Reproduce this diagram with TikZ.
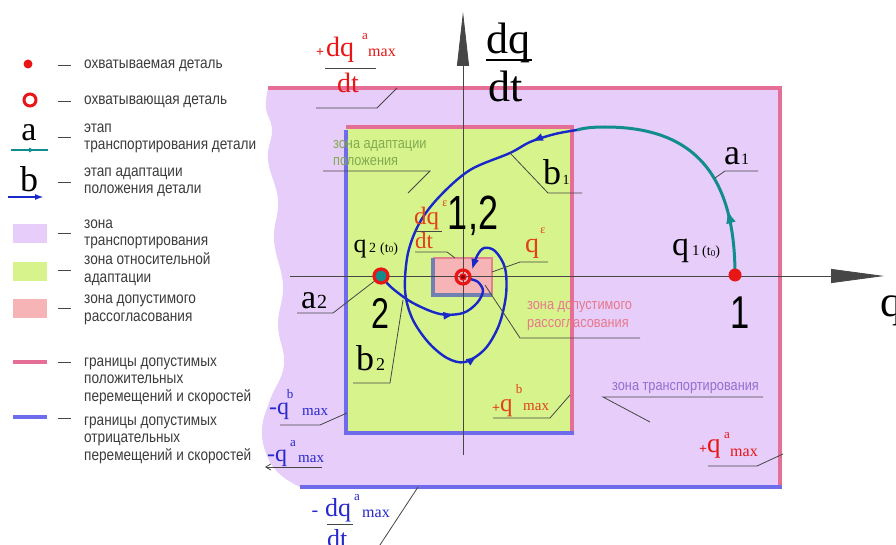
\documentclass[tikz,border=0pt]{standalone}
\usepackage{fontspec}
\setmainfont{Liberation Serif}
\newfontfamily\gost[FakeStretch=0.75]{Liberation Sans}
\newfontfamily\gostt[FakeStretch=0.85]{Liberation Sans}
\usetikzlibrary{arrows.meta,decorations.markings}
\definecolor{zpurple}{RGB}{230,205,250}
\definecolor{zgreen}{RGB}{215,244,140}
\definecolor{zpink}{RGB}{246,180,182}
\definecolor{bpink}{RGB}{228,110,150}
\definecolor{bblue}{RGB}{110,108,236}
\definecolor{tealc}{RGB}{18,140,140}
\definecolor{cblue}{RGB}{25,40,200}
\definecolor{cred}{RGB}{232,22,22}
\definecolor{corange}{RGB}{226,64,24}
\definecolor{lblue}{RGB}{40,40,205}
\definecolor{lgray}{RGB}{70,70,70}
\definecolor{tgreen}{RGB}{130,170,80}
\definecolor{tpink}{RGB}{232,120,140}
\definecolor{tpurple}{RGB}{150,110,205}
\definecolor{legc}{RGB}{60,60,60}
\definecolor{rectb}{RGB}{112,128,176}
\definecolor{rectp}{RGB}{224,130,140}
\tikzset{
  fs/.style={font=\fontsize{#1}{#1}\selectfont, inner sep=0},
  gs/.style={font=\gost\fontsize{#1}{#1}\selectfont, inner sep=0},
  gt/.style={font=\gostt\fontsize{#1}{#1}\selectfont, inner sep=0},
  gl/.style={font=\gostt\fontsize{#1}{17.5}\selectfont, inner sep=0, align=left, anchor=base west},
  leg/.style={gl=16, text=legc},
  lead/.style={draw=lgray, line width=0.8},
  dashl/.style={draw=lgray, line width=0.9},
  swatch/.style={minimum width=34, minimum height=19, inner sep=0},
  reddot/.style={circle, fill=cred, inner sep=0, minimum size=#1},
  ringn/.style={circle, draw=cred, line width=3.2, inner sep=0, minimum size=14},
  bcurve/.style={draw=cblue, line width=2.4},
  tipA/.style={postaction={decorate, decoration={markings, mark=at position #1 with {\arrow{Latex[length=12,width=8]}}}}},
  tipT/.style={postaction={decorate, decoration={markings, mark=at position #1 with {\arrow{Latex[length=14,width=10]}}}}},
  tipS/.style={postaction={decorate, decoration={markings, mark=at position #1 with {\arrow{Latex[length=6,width=5]}}}}}
}
\begin{document}
\begin{tikzpicture}[x=1pt,y=-1pt]
\useasboundingbox (0,0) rectangle (896,545);
\fill[white] (0,0) rectangle (896,545);

% ---------- transport zone ----------
\fill[zpurple] (268,88) -- (781,88) -- (781,487) -- (300,487)
  -- plot[smooth, tension=0.7] coordinates {(300,487) (282,476) (268,458) (262,430) (270,400) (284,365) (278,325) (283,285) (274,240) (278,200) (268,160) (272,130) (266,108) (268,88)} -- cycle;
\draw[bpink, line width=3.5] (268,88) -- (782,88);
\draw[bpink, line width=3.5] (780,88) -- (780,486);
\draw[bblue, line width=4] (300,487) -- (782,487);

% ---------- relative adaptation zone ----------
\fill[zgreen] (346,127) rectangle (572,433);
\draw[bpink, line width=4] (346,127) -- (572,127) -- (572,433);
\draw[bblue, line width=4.5] (346,130) -- (346,433) -- (574,433);

% ---------- admissible mismatch zone ----------
\fill[zpink] (433,258) rectangle (492,295);
\draw[rectp, line width=2.5] (433,258) -- (492,258) -- (492,295);
\draw[rectb, line width=4] (433,258) -- (433,295) -- (492,295);

% ---------- axes ----------
\coordinate (xs) at (290,276);
\coordinate (xe) at (884,276);
\coordinate (ys) at (463,455);
\coordinate (ye) at (463,12);
\draw[lgray, line width=0.8, -{Triangle[length=53,width=14]}] (xs) -- (xe);
\draw[lgray, line width=0.8, -{Triangle[length=54,width=12]}] (ys) -- (ye);
\node[fs=44, anchor=base west] (qx) at (880,316) {q};
\node[fs=44, anchor=base] (dqY) at (508,54) {dq};
\draw[black, line width=1.2] (486,60) -- (532,60);
\node[fs=44, anchor=base] (dtY) at (506,102) {dt};

% ---------- trajectories ----------
\coordinate (c1) at (735,275);
\coordinate (cT) at (577,130);
\coordinate (c2) at (381,276);
\coordinate (cO) at (463,277);
\draw[tealc, line width=3, tipT=0.26] (c1) .. controls (735,170) and (690,127) .. (605,127) .. controls (592,127) and (584,128) .. (cT);
\draw[bcurve, tipA=0.09, tipA=0.71, -{Latex[length=11,width=8]}] plot[smooth, tension=0.55] coordinates {(577,130) (555,134) (530,142) (510,153) (470,170) (440,196) (420,222) (408,253) (405,290) (412,318) (428,342) (447,358) (465,362) (485,349) (499,325) (506,295) (505,268) (495,251) (484,248) (477,256) (472,270)};
\draw[bcurve, tipA=0.6] plot[smooth, tension=0.55] coordinates {(381,276) (392,288) (413,303) (440,314) (463,313) (477,303) (483,291) (478,282) (470,279)};

% ---------- points ----------
\node[reddot=13] (p1) at (c1) {};
\node[ringn, fill=tealc] (q2) at (c2) {};
\node[ringn] (tgt) at (cO) {};
\node[circle, draw=cred, line width=1.4, fill=red!55!black, inner sep=0, minimum size=6] (tgtin) at (cO) {};

% ---------- labels on axes ----------
\node[fs=34, anchor=base west] (q1q) at (672,255) {q};
\node[fs=15, anchor=base west] (q1n) at (692,255) {1};
\node[fs=14, anchor=base west] (q1t) at (702,255) {(t\raisebox{-1pt}{\fontsize{9}{9}\selectfont 0})};
\node[gs=46, anchor=base] (n1) at (740,328) {1};

\node[fs=36, anchor=base west] (a1a) at (724,165) {a};
\node[fs=16, anchor=base west] (a1n) at (741,165) {1};
\draw[lead] (715,178) -- (725,171) -- (758,171);

\node[fs=36, anchor=base] (b1b) at (552,185) {b};
\node[fs=14, anchor=base] (b1n) at (566,185) {1};
\draw[lead] (510,153) -- (548,193) -- (582,193);

\node[fs=26, anchor=base] (q2q) at (360,253) {q};
\node[fs=14, anchor=base west] (q2n) at (369,252) {2};
\node[fs=14, anchor=base west] (q2t) at (380,252) {(t\raisebox{-1pt}{\fontsize{9}{9}\selectfont 0})};
\node[gs=43, anchor=base] (n2) at (380,328) {2};

\node[fs=34, anchor=base west] (a2a) at (301,308) {a};
\node[fs=20, anchor=base west] (a2n) at (317,308) {2};
\draw[lead] (q2) -- (333,313) -- (297,313);

\node[fs=36, anchor=base west] (b2b) at (356,370) {b};
\node[fs=18, anchor=base west] (b2n) at (376,370) {2};
\draw[lead] (403,300) -- (390,383) -- (353,383);

\node[gs=48, anchor=base] (n12) at (473,230) {1,2};

% dq^eps/dt
\node[fs=25, text=corange, anchor=base west] (edq) at (414,225) {dq};
\node[fs=12, text=corange, anchor=base] (eps1) at (445,207) {ε};
\draw[lgray, line width=0.8] (415,231) -- (442,231);
\node[fs=23, text=corange, anchor=base west] (edt) at (415,248) {dt};
\draw[lead] (415,252) -- (447,252) -- (455,258);

% q^eps
\node[fs=28, text=corange, anchor=base] (eq) at (532,253) {q};
\node[fs=12, text=corange, anchor=base] (eps2) at (543,234) {ε};
\draw[lead] (492,272) -- (520,262) -- (548,262);

% zone texts
\node[gl=15, text=tgreen] (gz) at (333,166) {зона адаптации\\положения};
\draw[lead] (323,171) -- (430,171) -- (408,193);
\node[gl=15, text=tpink] (pz) at (527,327) {зона допустимого\\рассогласования};
\draw[lead] (485,285) -- (520,338) -- (640,338);
\node[gt=15, text=tpurple, anchor=base west] (tz) at (612,390) {зона транспортирования};
\draw[lead] (650,422) -- (603,397) -- (763,397);

% +dq^a_max/dt
\node[fs=14, text=cred, anchor=base] (pplus) at (320,57) {\textbf{+}};
\node[fs=28, text=cred, anchor=base west] (pdq) at (326,57) {dq};
\node[fs=13, text=cred, anchor=base] (pa) at (365,40) {a};
\node[fs=16, text=cred, anchor=base west] (pmax) at (368,57) {max};
\draw[lgray, line width=0.8] (325,68) -- (376,68);
\node[fs=28, text=cred, anchor=base] (pdt) at (348,93) {dt};
\draw[lead] (316,108) -- (377,108) -- (397,88);

% +q^b_max
\node[fs=14, text=corange, anchor=base] (bplus) at (496,412) {\textbf{+}};
\node[fs=25, text=corange, anchor=base west] (bq) at (500,411) {q};
\node[fs=13, text=corange, anchor=base] (bb) at (519,393) {b};
\node[fs=15, text=corange, anchor=base west] (bmax) at (523,410) {max};
\draw[lead] (493,418) -- (550,418) -- (570,395);

% -q^b_max
\node[fs=24, text=lblue, anchor=base west] (nqb) at (269,414) {-q};
\node[fs=13, text=lblue, anchor=base] (nb) at (290,398) {b};
\node[fs=15, text=lblue, anchor=base west] (nbmax) at (302,415) {max};
\draw[lead] (280,425) -- (320,425) -- (347,413);

% -q^a_max
\node[fs=24, text=lblue, anchor=base west] (nqa) at (267,461) {-q};
\node[fs=13, text=lblue, anchor=base] (na) at (293,446) {a};
\node[fs=15, text=lblue, anchor=base west] (namax) at (298,462) {max};
\draw[lgray, line width=0.8, -{Straight Barb[length=5,width=6]}] (322,467) -- (265,467);

% -dq^a_max/dt
\node[fs=20, text=lblue, anchor=base] (ndm) at (315,516) {-};
\node[fs=26, text=lblue, anchor=base west] (ndq) at (325,516) {dq};
\node[fs=13, text=lblue, anchor=base] (nda) at (357,500) {a};
\node[fs=16, text=lblue, anchor=base west] (ndmax) at (362,517) {max};
\draw[lgray, line width=0.8] (327,524) -- (353,524);
\node[fs=26, text=lblue, anchor=base west] (ndt) at (327,547) {dt};
\draw[lead] (418,487) -- (378,548);

% +q^a_max
\node[fs=14, text=cred, anchor=base] (aplus) at (703,453) {\textbf{+}};
\node[fs=27, text=cred, anchor=base west] (aq) at (707,452) {q};
\node[fs=13, text=cred, anchor=base] (aa) at (727,438) {a};
\node[fs=16, text=cred, anchor=base west] (amax) at (730,456) {max};
\draw[lead] (708,466) -- (757,466) -- (783,454);

% ---------- legend ----------
\node[reddot=9] (ld1) at (28,64) {};
\node[ringn, minimum size=12, line width=3] (ld2) at (30,100) {};
\node[fs=34] (la) at (29,133) {a};
\coordinate (lta) at (11,150); \coordinate (ltb) at (48,150);
\draw[tealc, line width=2.5, tipS=0.65] (lta) -- (ltb);
\node[fs=36] (lb) at (29,179) {b};
\coordinate (lba) at (8,197); \coordinate (lbb) at (44,197);
\draw[cblue, line width=2, -{Latex[length=9,width=6]}] (lba) -- (lbb);
\node[swatch, fill=zpurple] (sw1) at (30,234) {};
\node[swatch, fill=zgreen] (sw2) at (30,271) {};
\node[swatch, fill=zpink] (sw3) at (30,308) {};
\coordinate (lpa) at (13,362); \coordinate (lpb) at (47,362);
\draw[bpink, line width=4] (lpa) -- (lpb);
\coordinate (lqa) at (13,417); \coordinate (lqb) at (47,417);
\draw[bblue, line width=4] (lqa) -- (lqb);

\foreach \yy in {65,101,137,182,233,270,308,362,418}{\draw[dashl] (58,\yy) -- (71,\yy);}

\node[leg] (t1) at (84,69) {охватываемая деталь};
\node[leg] (t2) at (84,105) {охватывающая деталь};
\node[leg] (t3) at (84,150) {этап\\транспортирования детали};
\node[leg] (t4) at (84,194) {этап адаптации\\положения детали};
\node[leg] (t5) at (84,246) {зона\\транспортирования};
\node[leg] (t6) at (84,282) {зона относительной\\адаптации};
\node[leg] (t7) at (84,321) {зона допустимого\\рассогласования};
\node[leg] (t8) at (84,401) {границы допустимых\\положительных\\перемещений и скоростей};
\node[leg] (t9) at (84,460) {границы допустимых\\отрицательных\\перемещений и скоростей};
\end{tikzpicture}
\end{document}
